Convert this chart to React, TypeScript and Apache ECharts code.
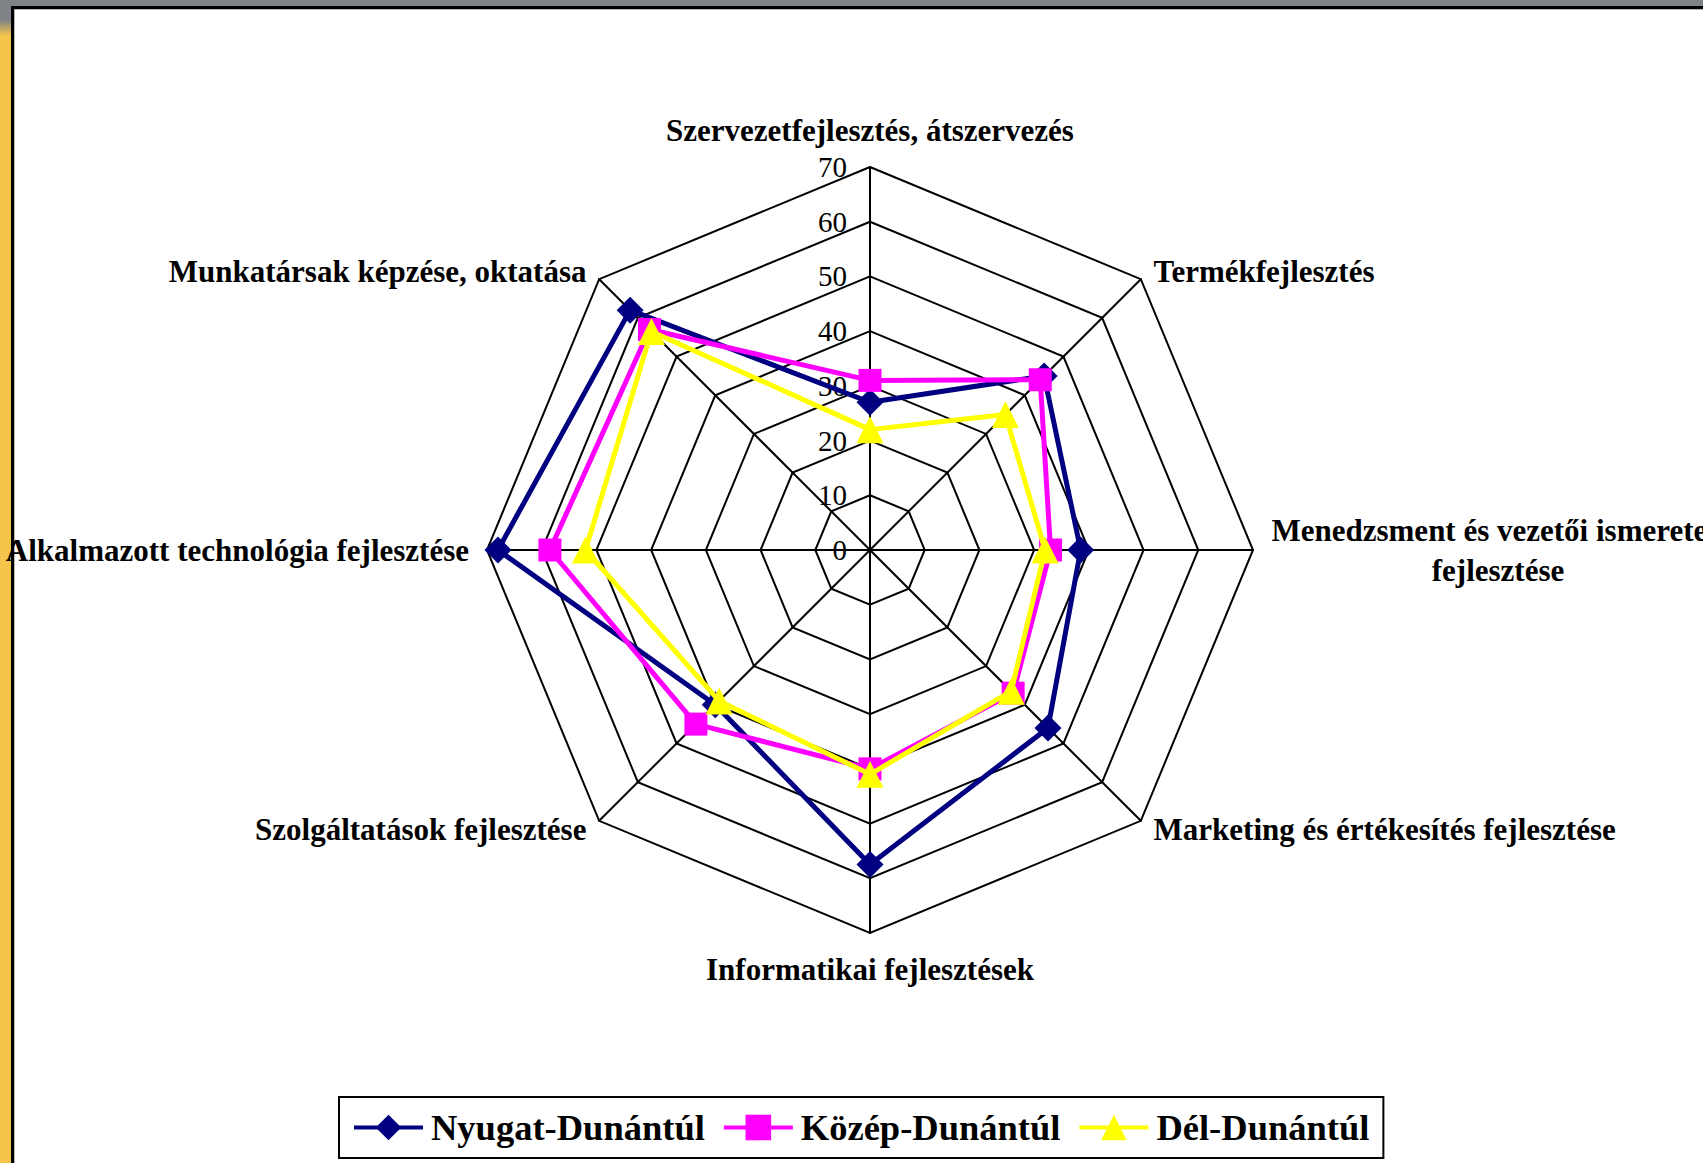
import React, { useEffect, useRef } from "react";
import * as echarts from "echarts";

// Categories in the clockwise order seen in the chart, starting at the top
const categories = [
  "Szervezetfejlesztés, átszervezés",
  "Termékfejlesztés",
  "Menedzsment és vezetői ismeretek fejlesztése",
  "Marketing és értékesítés fejlesztése",
  "Informatikai fejlesztések",
  "Szolgáltatások fejlesztése",
  "Alkalmazott technológia fejlesztése",
  "Munkatársak képzése, oktatása",
];
const seriesNames = ["Nyugat-Dunántúl", "Közép-Dunántúl", "Dél-Dunántúl"];
const nyugatDunantul = [27, 45, 38.5, 46, 57.5, 40, 68, 62];
const kozepDunantul = [31, 44, 33, 37, 40, 45, 58.5, 57];
const delDunantul = [22, 35, 32, 36.5, 41, 39, 52, 56.5];
const axisMin = 0;
const axisMax = 70;
const axisStep = 10;

const seriesColors = ["#000080", "#FF00FF", "#FFFF00"];
const seriesSymbols = ["diamond", "rect", "triangle"];
const seriesSymbolSizes = [27, 23, 27];
const seriesLineWidth = 5;

const SERIF = "'Liberation Serif', 'Times New Roman', serif";

export default function App() {
  const ref = useRef<HTMLDivElement>(null);

  useEffect(() => {
    if (!ref.current) return;
    const chart = echarts.init(ref.current, undefined, { renderer: "svg" });

    // ECharts radar goes counter-clockwise; reorder so the chart reads clockwise
    const order = [0, 7, 6, 5, 4, 3, 2, 1];
    const reorder = (arr: any[]) => order.map((i) => arr[i]);
    const allValues = [nyugatDunantul, kozepDunantul, delDunantul];

    const cx = 870;
    const cy = 550;
    const R = 383;

    const nameBase = { fontSize: 31, fontWeight: "bold", fontFamily: SERIF, color: "#000000" };
    // rich style key for each category (clockwise order)
    const nameKeys = ["t", "u", "m", "d", "b", "d", "s", "u"];

    const option: any = {
      animation: false,
      backgroundColor: "#ffffff",
      graphic: [
        { type: "rect", shape: { x: 0, y: 0, width: 11, height: 1163 }, style: { fill: "#F5C44B" }, silent: true },
        {
          type: "rect",
          shape: { x: 0, y: 0, width: 11, height: 36 },
          style: {
            fill: new echarts.graphic.LinearGradient(0, 0, 0, 1, [
              { offset: 0, color: "#7F8387" },
              { offset: 0.55, color: "#7F8387" },
              { offset: 1, color: "#F5C44B" },
            ]),
          },
          silent: true,
        },
        { type: "rect", shape: { x: 0, y: 0, width: 1703, height: 6 }, style: { fill: "#7F8387" }, silent: true },
        { type: "rect", shape: { x: 11, y: 6, width: 1692, height: 3 }, style: { fill: "#000000" }, silent: true },
        { type: "rect", shape: { x: 11, y: 6, width: 3, height: 1157 }, style: { fill: "#000000" }, silent: true },
        { type: "rect", shape: { x: 14, y: 9, width: 1689, height: 1 }, style: { fill: "#B8B8B8" }, silent: true },
        { type: "rect", shape: { x: 14, y: 9, width: 1, height: 1154 }, style: { fill: "#B8B8B8" }, silent: true },
      ],
      legend: {
        data: seriesNames,
        left: 339,
        top: 1097,
        orient: "horizontal",
        itemWidth: 69,
        itemHeight: 32,
        itemGap: 17,
        padding: [12, 14, 12, 13],
        borderColor: "#000000",
        borderWidth: 2,
        backgroundColor: "#ffffff",
        selectedMode: false,
        lineStyle: { width: 4 },
        textStyle: {
          fontFamily: SERIF,
          fontSize: 36.5,
          fontWeight: "bold",
          color: "#000000",
          padding: [0, 0, 0, 3],
        },
      },
      grid: { left: cx, top: cy - R, width: 1, height: R },
      xAxis: { type: "value", show: false, min: 0, max: 1 },
      yAxis: {
        type: "value",
        min: axisMin,
        max: axisMax,
        interval: axisStep,
        axisLine: { show: false },
        axisTick: { show: false },
        splitLine: { show: false },
        axisLabel: { fontSize: 29, fontFamily: SERIF, color: "#000000", margin: 23 },
      },
      radar: {
        center: [cx, cy],
        radius: R,
        startAngle: 90,
        splitNumber: (axisMax - axisMin) / axisStep,
        shape: "polygon",
        nameGap: 18,
        indicator: reorder(categories).map((name: string) => ({ name, min: axisMin, max: axisMax })),
        axisName: {
          ...nameBase,
          formatter: (value: string) => {
            const idx = categories.indexOf(value);
            const key = nameKeys[idx] || "s";
            if (key === "m") {
              return "{m|Menedzsment és vezetői ismeretek}\n{m|fejlesztése}";
            }
            return "{" + key + "|" + value + "}";
          },
          rich: {
            m: { ...nameBase, width: 454, align: "center", lineHeight: 40 },
            t: { ...nameBase, padding: [0, 0, 3, 0] },
            u: { ...nameBase, padding: [11, 0, 0, 0] },
            d: { ...nameBase, padding: [0, 0, 9, 0] },
            b: { ...nameBase, padding: [3, 0, 0, 0] },
            s: { ...nameBase },
          },
        },
        axisLine: { lineStyle: { color: "#000000", width: 2 } },
        splitLine: { lineStyle: { color: "#000000", width: 2 } },
        splitArea: { show: false },
        axisTick: { show: false },
        axisLabel: { show: false },
      },
      series: [
        ...seriesNames.map((name, i) => ({
          type: "line",
          name,
          data: [],
          xAxisIndex: 0,
          yAxisIndex: 0,
          symbol: seriesSymbols[i],
          symbolSize: seriesSymbolSizes[i],
          lineStyle: { color: seriesColors[i], width: 4 },
          itemStyle: { color: seriesColors[i] },
        })),
        ...seriesNames.map((name, i) => ({
          type: "radar",
          name,
          symbol: seriesSymbols[i],
          symbolSize: seriesSymbolSizes[i],
          lineStyle: { color: seriesColors[i], width: seriesLineWidth },
          itemStyle: { color: seriesColors[i] },
          data: [
            {
              name,
              value: reorder(allValues[i]),
              lineStyle: { color: seriesColors[i], width: seriesLineWidth },
              itemStyle: { color: seriesColors[i] },
            },
          ],
          z: 3 + i,
        })),
      ],
    };

    chart.setOption(option);
    return () => {
      chart.dispose();
    };
  }, []);

  return (
    <div
      ref={ref}
      style={{ position: "fixed", left: 0, top: 0, width: 1703, height: 1163, background: "#ffffff" }}
    />
  );
}
